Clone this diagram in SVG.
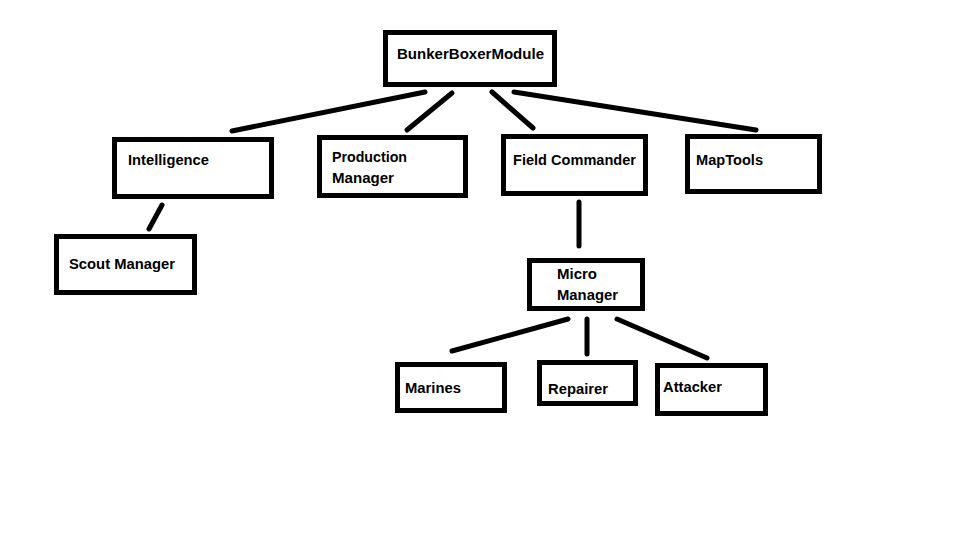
<svg xmlns="http://www.w3.org/2000/svg" width="966" height="545" viewBox="0 0 966 545">
<style>
.box{fill:#fff;stroke:#000;stroke-width:5}
.lbl{font-family:"Liberation Sans",Arial,sans-serif;font-weight:bold;font-size:14.5px;fill:#000}
.conn line{stroke:#000;stroke-width:5;stroke-linecap:round}
</style>
<rect width="966" height="545" fill="#fff"/>
<g id="connectors" class="conn">
<line x1="425" y1="92" x2="232" y2="131"/>
<line x1="452" y1="93" x2="407" y2="130"/>
<line x1="492" y1="92" x2="533" y2="128"/>
<line x1="514" y1="92" x2="756" y2="130"/>
<line x1="162" y1="205" x2="149" y2="229"/>
<line x1="579" y1="202" x2="579" y2="246"/>
<line x1="568" y1="319" x2="452" y2="351"/>
<line x1="587" y1="319" x2="587" y2="354"/>
<line x1="617" y1="319" x2="707" y2="358"/>
</g>
<g id="bunkerboxer">
<rect class="box" x="385.5" y="32.5" width="169" height="52"/>
<text class="lbl" x="397" y="59" textLength="147" lengthAdjust="spacingAndGlyphs">BunkerBoxerModule</text>
</g>
<g id="intelligence">
<rect class="box" x="114.5" y="139.5" width="157" height="57"/>
<text class="lbl" x="128" y="165" textLength="81" lengthAdjust="spacingAndGlyphs">Intelligence</text>
</g>
<g id="production">
<rect class="box" x="319.5" y="137.5" width="146" height="58"/>
<text class="lbl" x="332" y="162" textLength="75" lengthAdjust="spacingAndGlyphs">Production</text>
<text class="lbl" x="332" y="183" textLength="62" lengthAdjust="spacingAndGlyphs">Manager</text>
</g>
<g id="fieldcommander">
<rect class="box" x="503.5" y="136.5" width="142" height="57"/>
<text class="lbl" x="513" y="165" textLength="123" lengthAdjust="spacingAndGlyphs">Field Commander</text>
</g>
<g id="maptools">
<rect class="box" x="687.5" y="136.5" width="132" height="55"/>
<text class="lbl" x="696" y="165" textLength="67" lengthAdjust="spacingAndGlyphs">MapTools</text>
</g>
<g id="scoutmanager">
<rect class="box" x="56.5" y="236.5" width="138" height="56"/>
<text class="lbl" x="69" y="269" textLength="106" lengthAdjust="spacingAndGlyphs">Scout Manager</text>
</g>
<g id="micromanager">
<rect class="box" x="529.5" y="260.5" width="113" height="48"/>
<text class="lbl" x="557" y="279" textLength="40" lengthAdjust="spacingAndGlyphs">Micro</text>
<text class="lbl" x="557" y="300" textLength="61" lengthAdjust="spacingAndGlyphs">Manager</text>
</g>
<g id="marines">
<rect class="box" x="397.5" y="364.5" width="107" height="46"/>
<text class="lbl" x="405" y="393" textLength="56" lengthAdjust="spacingAndGlyphs">Marines</text>
</g>
<g id="repairer">
<rect class="box" x="539.5" y="362.5" width="96" height="41"/>
<text class="lbl" x="548" y="394" textLength="60" lengthAdjust="spacingAndGlyphs">Repairer</text>
</g>
<g id="attacker">
<rect class="box" x="657.5" y="365.5" width="108" height="48"/>
<text class="lbl" x="663" y="392" textLength="59" lengthAdjust="spacingAndGlyphs">Attacker</text>
</g>
</svg>
